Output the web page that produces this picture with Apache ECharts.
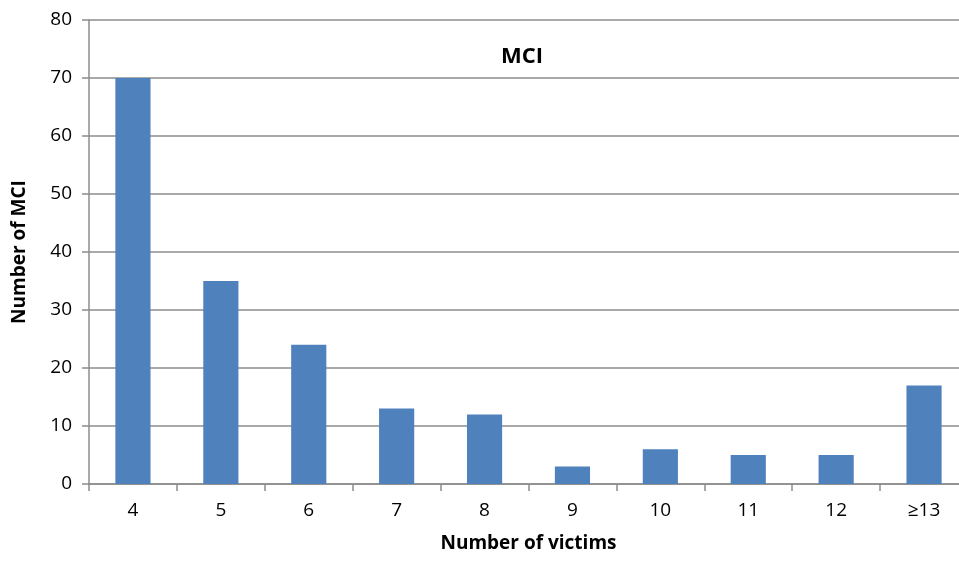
<!DOCTYPE html>
<html><head><meta charset="utf-8">
<script src="https://cdn.jsdelivr.net/npm/echarts@6/dist/echarts.min.js"></script>
<style>html,body{margin:0;padding:0;background:#fff}#c{width:959px;height:562px}</style>
</head><body><div id="c"></div>
<script>
const categories = ['4','5','6','7','8','9','10','11','12','≥13'];
const mciCounts = [70, 35, 24, 13, 12, 3, 6, 5, 5, 17];
const yTicks = [0, 80, 10];

const chart = echarts.init(document.getElementById('c'), null, {renderer:'canvas'});
const font = "'Open Sans', 'Liberation Sans', sans-serif";
chart.setOption({
  animation: false,
  title: {
    text: 'MCI', left: 517, top: 41, textAlign: 'center',
    textStyle: {fontFamily: font, fontSize: 22, fontWeight: 'bold', color: '#000'}
  },
  grid: {left: 89, top: 20, width: 879, height: 464, containLabel: false, outerBoundsMode: 'none'},
  xAxis: {
    type: 'category', data: categories,
    name: 'Number of victims', nameLocation: 'middle', nameGap: 50,
    nameTextStyle: {fontFamily: font, fontSize: 19, fontWeight: 'bold', color: '#000'},
    axisLine: {lineStyle: {color: '#8c8c8c', width: 1.5}},
    axisTick: {show: true, length: 7, lineStyle: {color: '#8c8c8c', width: 1.5}},
    axisLabel: {fontFamily: font, fontSize: 19, color: '#000', margin: 17}
  },
  yAxis: {
    type: 'value', min: yTicks[0], max: yTicks[1], interval: yTicks[2],
    name: 'Number of MCI', nameLocation: 'middle', nameGap: 60, nameRotate: 90,
    nameTextStyle: {fontFamily: font, fontSize: 19, fontWeight: 'bold', color: '#000'},
    axisLine: {show: true, lineStyle: {color: '#8c8c8c', width: 1.5}},
    axisTick: {show: true, length: 7, inside: false, lineStyle: {color: '#8c8c8c', width: 1.5}},
    axisLabel: {fontFamily: font, fontSize: 19, color: '#000', margin: 17},
    splitLine: {lineStyle: {color: '#8c8c8c', width: 1.5}}
  },
  series: [{
    type: 'bar', data: mciCounts, barWidth: '40%',
    itemStyle: {color: '#4F81BD'}
  }]
});
</script></body></html>
